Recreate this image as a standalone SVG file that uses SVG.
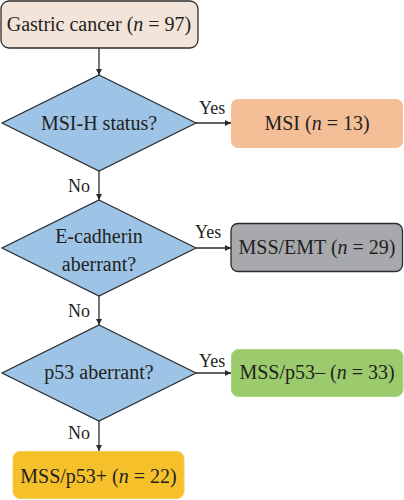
<svg xmlns="http://www.w3.org/2000/svg" width="404" height="500" viewBox="0 0 404 500" font-family="Liberation Serif, DejaVu Serif, serif">
<defs>
<marker id="ah" viewBox="0 0 8 8" refX="8" refY="4" markerWidth="6" markerHeight="6" markerUnits="userSpaceOnUse" orient="auto">
<path d="M0,0 L8,4 L0,8 Z" fill="#2b2b2b"/>
</marker>
</defs>
<style>
text{fill:#231f20;}
.t{font-size:20px;text-anchor:middle;}
.l{font-size:18px;}
.dia{fill:#9dc3e6;stroke:#2b2b2b;stroke-width:1.2;}
.c{stroke:#2b2b2b;stroke-width:1.3;fill:none;marker-end:url(#ah);}
</style>
<rect width="404" height="500" fill="#ffffff"/>
<g id="connectors">
<line class="c" x1="99" y1="48" x2="99" y2="75"/>
<line class="c" x1="196" y1="123" x2="231" y2="123"/>
<line class="c" x1="99" y1="171" x2="99" y2="200"/>
<line class="c" x1="196" y1="248" x2="231" y2="248"/>
<line class="c" x1="99" y1="296" x2="99" y2="325"/>
<line class="c" x1="196" y1="373" x2="231" y2="373"/>
<line class="c" x1="99" y1="421" x2="99" y2="451"/>
<text class="l" x="199" y="114">Yes</text>
<text class="l" x="195" y="238">Yes</text>
<text class="l" x="199" y="367">Yes</text>
<text class="l" x="68" y="192">No</text>
<text class="l" x="68" y="317">No</text>
<text class="l" x="68" y="439">No</text>
</g>
<g id="gastric">
<rect x="1" y="1" width="197" height="47" rx="8" fill="#f3e4da" stroke="#2b2b2b" stroke-width="1.3"/>
<text class="t" x="99" y="31">Gastric cancer (<tspan font-style="italic">n</tspan> = 97)</text>
</g>
<g id="msih">
<polygon class="dia" points="99,75 196,123 99,171 2,123"/>
<text class="t" x="99" y="130">MSI-H status?</text>
</g>
<g id="msi">
<rect x="231" y="99" width="172" height="49" rx="7" fill="#f4be97"/>
<text class="t" x="317" y="130">MSI (<tspan font-style="italic">n</tspan> = 13)</text>
</g>
<g id="ecad">
<polygon class="dia" points="99,200 196,248 99,296 2,248"/>
<text class="t" x="99" y="243">E-cadherin</text>
<text class="t" x="99" y="271">aberrant?</text>
</g>
<g id="emt">
<rect x="231" y="223.5" width="171.5" height="48" rx="7" fill="#a7a9ad" stroke="#2b2b2b" stroke-width="1.3"/>
<text class="t" x="317" y="254">MSS/EMT (<tspan font-style="italic">n</tspan> = 29)</text>
</g>
<g id="p53">
<polygon class="dia" points="99,325 196,373 99,421 2,373"/>
<text class="t" x="99" y="379">p53 aberrant?</text>
</g>
<g id="p53neg">
<rect x="231.5" y="349.5" width="171.5" height="47" rx="7" fill="#9bcb6c" stroke="#a9d381" stroke-width="1"/>
<text class="t" x="317" y="379">MSS/p53– (<tspan font-style="italic">n</tspan> = 33)</text>
</g>
<g id="p53pos">
<rect x="13" y="451.5" width="171" height="47" rx="7" fill="#f6c02b" stroke="#f8cc55" stroke-width="1"/>
<text class="t" x="98.5" y="483">MSS/p53+ (<tspan font-style="italic">n</tspan> = 22)</text>
</g>
</svg>
